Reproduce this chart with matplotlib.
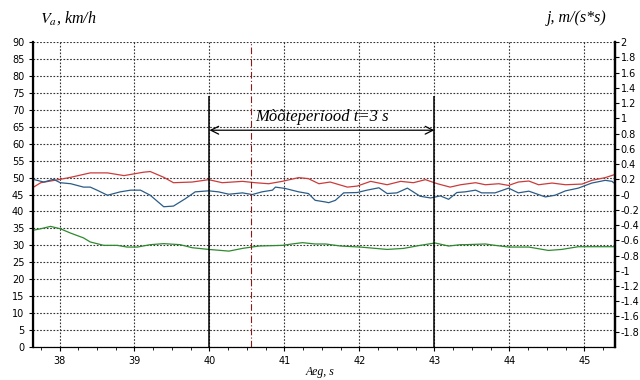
import matplotlib.pyplot as plt
import numpy as np
from matplotlib.ticker import MultipleLocator, FuncFormatter

plt.rcParams['mathtext.fontset'] = 'stix'

# punane joon
red_t = [37.61, 37.75, 38.01, 38.15, 38.41, 38.64, 38.86, 39.12, 39.21, 39.39, 39.52,
         39.77, 39.99, 40.17, 40.44, 40.61, 40.79, 40.97, 41.19, 41.32, 41.46, 41.61,
         41.84, 41.97, 42.15, 42.37, 42.55, 42.72, 42.88, 43.04, 43.21, 43.35, 43.55,
         43.68, 43.86, 43.99, 44.12, 44.26, 44.39, 44.57, 44.75, 44.97, 45.10, 45.28, 45.39]
red_v = [46.6, 48.5, 49.5, 50.1, 51.4, 51.4, 50.6, 51.6, 51.8, 50.1, 48.5,
         48.7, 49.4, 48.5, 48.9, 48.5, 48.2, 48.9, 50.0, 49.7, 48.2, 48.7,
         47.2, 47.5, 48.9, 47.9, 48.9, 48.5, 49.4, 48.2, 47.2, 47.9, 48.5,
         47.9, 48.2, 47.7, 48.7, 49.0, 47.9, 48.4, 47.9, 48.1, 49.2, 50.0, 50.8]

# sinine joon
blue_t = [37.61, 37.79, 37.92, 38.01, 38.15, 38.32, 38.41, 38.50, 38.64, 38.81, 38.95,
          39.08, 39.21, 39.39, 39.52, 39.68, 39.81, 39.99, 40.12, 40.26, 40.44, 40.57,
          40.70, 40.84, 40.88, 41.01, 41.19, 41.32, 41.41, 41.55, 41.59, 41.68, 41.79,
          41.97, 42.10, 42.26, 42.37, 42.50, 42.64, 42.81, 42.95, 43.08, 43.19, 43.30,
          43.41, 43.55, 43.63, 43.81, 43.99, 44.12, 44.26, 44.39, 44.48, 44.61, 44.75,
          44.92, 45.10, 45.28, 45.37, 45.39]
blue_v = [49.7, 48.7, 49.5, 48.5, 48.2, 47.2, 47.2, 46.3, 44.8, 45.8, 46.3,
          46.3, 44.8, 41.4, 41.6, 43.8, 45.8, 46.1, 45.8, 45.1, 45.5, 45.0,
          45.8, 46.3, 47.2, 46.8, 45.8, 45.3, 43.3, 42.8, 42.6, 43.3, 45.5,
          45.6, 46.3, 47.0, 45.3, 45.5, 46.9, 44.5, 44.0, 44.6, 43.6, 45.6,
          45.8, 46.3, 45.5, 45.5, 46.9, 45.5, 46.0, 45.0, 44.3, 44.8, 46.1,
          46.9, 48.4, 49.2, 48.9, 48.5]

# roheline joon
green_t = [37.61, 37.75, 37.88, 38.01, 38.15, 38.32, 38.41, 38.59, 38.77, 38.90, 39.04,
           39.21, 39.39, 39.61, 39.77, 39.99, 40.26, 40.44, 40.66, 40.97, 41.10, 41.24,
           41.41, 41.55, 41.75, 42.01, 42.37, 42.59, 42.81, 43.01, 43.19, 43.35, 43.41,
           43.68, 43.81, 43.99, 44.26, 44.52, 44.70, 44.92, 45.41]
green_v = [34.3, 34.9, 35.6, 34.9, 33.6, 32.2, 31.0, 30.0, 30.0, 29.5, 29.5,
           30.2, 30.5, 30.2, 29.3, 28.8, 28.3, 29.1, 29.8, 30.0, 30.4, 30.8,
           30.4, 30.4, 29.8, 29.5, 28.8, 29.1, 30.0, 30.7, 29.8, 30.2, 30.2,
           30.4, 30.0, 29.5, 29.5, 28.5, 28.8, 29.6, 29.6]

period_start = 40
period_end = 43
mid_mark = 40.55

fig = plt.figure(figsize=(6.4, 3.8), dpi=100)
ax = fig.add_axes([0.052, 0.087, 0.909, 0.802])

ax.plot(red_t, red_v, color='#cc3b3b', lw=0.9)
ax.plot(blue_t, blue_v, color='#2b5c88', lw=0.9)
ax.plot(green_t, green_v, color='#2e8a2e', lw=0.9)

ax.set_xlim(37.65, 45.41)
ax.set_ylim(0, 90)
ax.set_yticks(np.arange(0, 91, 5))
ax.set_xticks(np.arange(38, 46, 1))
ax.xaxis.set_minor_locator(MultipleLocator(0.25))
ax.grid(True, which='major', color='#333333', linestyle=(0, (1.5, 1.5)), lw=0.8)

# mõõteperiood
ax.vlines([period_start, period_end], 0, 74, color='black', lw=1.1)
ax.axvline(mid_mark, color='#8b1a1a', lw=0.8, linestyle=(0, (6, 2, 1, 2)))
ax.annotate('', xy=(period_start, 64), xytext=(period_end, 64),
            arrowprops=dict(arrowstyle='<->', color='black', lw=0.9,
                            shrinkA=0, shrinkB=0, mutation_scale=14))
ax.text((period_start + period_end) / 2, 65.5, 'Mõõteperiood t=3 s', ha='center',
        va='bottom', fontsize=12, style='italic', family='Liberation Serif')

for s in ['left', 'right']:
    ax.spines[s].set_linewidth(1.6)
ax.spines['top'].set_visible(False)
ax.tick_params(labelsize=7, length=3, width=0.8)
ax.tick_params(which='minor', length=2, width=0.6)

ax2 = ax.twinx()
ax2.set_ylim(-2, 2)
ax2.set_yticks(np.round(np.arange(-1.8, 2.01, 0.2), 1))
ax2.yaxis.set_major_formatter(FuncFormatter(lambda v, p: '%g' % round(v, 1)))
ax2.tick_params(labelsize=7, length=3, width=0.8, pad=1)
ax2.spines['right'].set_linewidth(1.6)
ax2.spines['top'].set_visible(False)

fig.text(0.063, 0.953, r'$\mathit{V_a}$, km/h', fontsize=11.5, style='italic',
         family='Liberation Serif', va='center')
fig.text(0.947, 0.953, 'j, m/(s*s)', fontsize=11.5, style='italic',
         family='Liberation Serif', va='center', ha='right')
fig.text(0.5, 0.022, 'Aeg, s', fontsize=8.5, style='italic',
         family='Liberation Serif', va='center', ha='center')

fig.savefig('out.png', dpi=100)
